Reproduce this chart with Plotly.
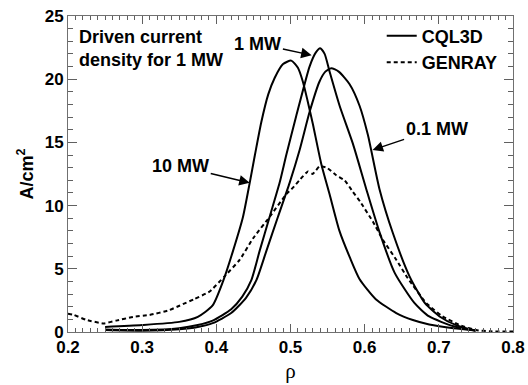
import plotly.graph_objects as go

# ---- data ----
x_10mw = [0.25, 0.30, 0.35, 0.375, 0.395, 0.409, 0.4224, 0.4359, 0.445, 0.452, 0.4606, 0.470, 0.4786,
          0.490, 0.501, 0.510, 0.5167, 0.523, 0.530, 0.5415, 0.5527, 0.566, 0.58, 0.593, 0.615,
          0.6426, 0.665, 0.687, 0.72, 0.75]
y_10mw = [0.4, 0.55, 0.8, 1.2, 2.1, 4.0, 6.4, 9.1, 11.8, 14.0, 16.6, 18.8, 20.1,
          21.2, 21.47, 20.9, 19.8, 18.3, 16.5, 13.3, 10.9, 8.0, 5.9, 4.2, 2.6,
          1.5, 0.95, 0.6, 0.3, 0.12]

x_1mw = [0.25, 0.30, 0.35, 0.375, 0.395, 0.42, 0.435, 0.4472, 0.4583, 0.4718, 0.4853, 0.4943, 0.5078,
         0.5257, 0.534, 0.540, 0.546, 0.5527, 0.5662, 0.5841, 0.6022, 0.620, 0.6403,
         0.667, 0.687, 0.72, 0.75]
y_1mw = [0.2, 0.15, 0.3, 0.55, 0.9, 1.8, 2.8, 4.1, 6.4, 9.1, 11.8, 14.0, 17.1,
         21.0, 22.1, 22.45, 22.0, 20.6, 17.9, 14.9, 11.3, 7.9, 4.7,
         2.3, 1.23, 0.45, 0.1]

x_01mw = [0.25, 0.30, 0.35, 0.375, 0.395, 0.42, 0.44, 0.454, 0.4674, 0.483, 0.4988, 0.5123, 0.5257,
          0.539, 0.547, 0.555, 0.565, 0.5797, 0.5931, 0.6043, 0.620, 0.638, 0.6605,
          0.681, 0.701, 0.725, 0.75]
y_01mw = [0.15, 0.1, 0.22, 0.4, 0.7, 1.5, 2.7, 4.1, 6.4, 9.1, 11.8, 14.4, 17.4,
          19.8, 20.6, 20.87, 20.6, 19.6, 17.9, 15.6, 11.3, 7.83, 4.4,
          2.3, 1.23, 0.5, 0.1]

x_genray = [0.20, 0.207, 0.225, 0.248, 0.265, 0.288, 0.31, 0.335, 0.351, 0.37, 0.391, 0.411, 0.4314,
            0.4494, 0.4718, 0.4943, 0.503, 0.512, 0.5235, 0.530, 0.539, 0.549, 0.5617, 0.573,
            0.584, 0.594, 0.611, 0.6245, 0.6426, 0.658, 0.683, 0.705, 0.73, 0.75, 0.77, 0.80]
y_genray = [1.45, 1.37, 0.95, 0.68, 0.9, 1.2, 1.35, 1.7, 2.1, 2.6, 3.2, 4.4, 5.7,
            7.4, 9.1, 10.9, 11.4, 12.0, 12.7, 12.5, 13.1, 13.0, 12.4, 12.0,
            11.1, 10.3, 8.74, 7.3, 5.72, 4.27, 2.29, 1.23, 0.5, 0.15, 0.05, 0.03]

x_ticks = [0.2, 0.3, 0.4, 0.5, 0.6, 0.7, 0.8]
y_ticks = [0, 5, 10, 15, 20, 25]
x_minor_step = 0.01
y_minor_step = 1

FONT = "Liberation Sans, Arial, sans-serif"
AX = "#707070"
TK = "#606060"

fig = go.Figure()
solid = dict(color="black", width=2, shape="spline", smoothing=0.6)
fig.add_trace(go.Scatter(x=x_10mw, y=y_10mw, mode="lines", line=solid, name="CQL3D",
                         showlegend=True, legendrank=1))
fig.add_trace(go.Scatter(x=x_1mw, y=y_1mw, mode="lines", line=solid, showlegend=False))
fig.add_trace(go.Scatter(x=x_01mw, y=y_01mw, mode="lines", line=solid, showlegend=False))
fig.add_trace(go.Scatter(x=x_genray, y=y_genray, mode="lines", name="GENRAY",
                         line=dict(color="black", width=2, dash="4px,3px", shape="spline", smoothing=0.4),
                         legendrank=2))

afont = dict(family=FONT, size=18, color="black", weight="bold")
fig.add_annotation(x=0.02, y=0.972, xref="paper", yref="paper", xanchor="left", yanchor="top",
                   text="Driven current<br>density for 1 MW", showarrow=False, align="left",
                   font=afont)
arrow = dict(showarrow=True, arrowhead=2, arrowsize=1.4, arrowwidth=1.5, arrowcolor="black",
             axref="x", ayref="y", font=afont)
fig.add_annotation(x=0.5285, y=21.9, ax=0.456, ay=22.8, text="1 MW", **arrow)
fig.add_annotation(x=0.445, y=11.8, ax=0.352, ay=13.1, text="10 MW", **arrow)
fig.add_annotation(x=0.6106, y=14.4, ax=0.697, ay=16.1, text="0.1 MW", **arrow)

fig.update_layout(
    width=528, height=385,
    margin=dict(l=68, r=15, t=16, b=53),
    paper_bgcolor="white", plot_bgcolor="white",
    font=dict(family=FONT, color="black"),
    showlegend=True,
    legend=dict(x=0.705, y=0.995, xanchor="left", yanchor="top", bgcolor="rgba(0,0,0,0)",
                font=dict(family=FONT, size=18, color="black", weight="bold"),
                tracegroupgap=0, itemwidth=30),
    xaxis=dict(range=[x_ticks[0], x_ticks[-1]], tickmode="linear", tick0=x_ticks[0],
               dtick=round(x_ticks[1] - x_ticks[0], 3), tickformat=".1f", automargin=False,
               showline=True, linecolor=AX, linewidth=1, mirror="allticks",
               ticks="inside", ticklen=8, tickwidth=1.2, tickcolor=TK, showgrid=False, zeroline=False,
               minor=dict(dtick=x_minor_step, ticks="inside", ticklen=4, tickwidth=1,
                          tickcolor=TK, showgrid=False),
               tickfont=dict(family=FONT, size=17, color="black", weight="bold"),
               title=dict(text="ρ", font=dict(family="Liberation Serif, serif", size=21, color="black"),
                          standoff=6)),
    yaxis=dict(range=[y_ticks[0], y_ticks[-1]], tickmode="linear", tick0=y_ticks[0],
               dtick=y_ticks[1] - y_ticks[0], automargin=False,
               showline=True, linecolor=AX, linewidth=1, mirror="allticks",
               ticks="inside", ticklen=9, tickwidth=1.2, tickcolor=TK, showgrid=False, zeroline=False,
               minor=dict(dtick=y_minor_step, ticks="inside", ticklen=5, tickwidth=1,
                          tickcolor=TK, showgrid=False),
               tickfont=dict(family=FONT, size=17, color="black", weight="bold"),
               title=dict(text="A/cm<sup>2</sup>", font=dict(family=FONT, size=18, color="black", weight="bold"),
                          standoff=6)),
)

fig.write_html("out.html")
